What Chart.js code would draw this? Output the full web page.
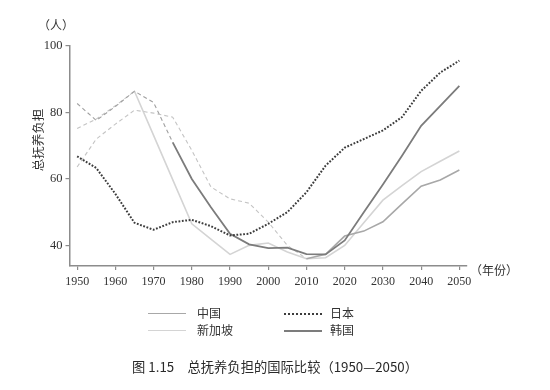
<!DOCTYPE html>
<html><head><meta charset="utf-8">
<script src="https://cdn.jsdelivr.net/npm/chart.js@4"></script>
<style>
body{margin:0;background:#fff;}
#wrap{position:relative;width:550px;height:390px;overflow:hidden;}
#c{position:absolute;left:0;top:0;}
.t{position:absolute;font-family:"Noto Sans CJK SC";color:#333;white-space:nowrap;font-size:12px;line-height:14px;}
.ln{position:absolute;width:38px;height:0;}
</style></head><body>
<div id="wrap">
<canvas id="c" width="550" height="390"></canvas>
<div class="t" style="left:38px;top:18px;">（人）</div>
<div class="t" style="left:470px;top:263px;">（年份）</div>
<div class="t" style="left:5px;top:133px;width:66px;text-align:center;font-size:12.5px;transform:rotate(-90deg);">总抚养负担</div>
<div class="ln" style="left:148px;top:313px;border-top:1.5px solid #a8a8a8;"></div>
<div class="t" style="left:197px;top:306px;">中国</div>
<div class="ln" style="left:284px;top:313px;border-top:2px dotted #3c3c3c;"></div>
<div class="t" style="left:330px;top:306px;">日本</div>
<div class="ln" style="left:148px;top:330px;border-top:1.5px solid #d4d4d4;"></div>
<div class="t" style="left:197px;top:323px;">新加坡</div>
<div class="ln" style="left:284px;top:330px;border-top:2px solid #7c7c7c;"></div>
<div class="t" style="left:330px;top:323px;">韩国</div>
<div class="t" style="left:0;width:550px;text-align:center;top:359px;font-size:13.3px;line-height:16px;color:#2a2a2a;">图 1.15　总抚养负担的国际比较（1950—2050）</div>
</div>
<script>
const years = [1950,1955,1960,1965,1970,1975,1980,1985,1990,1995,2000,2005,2010,2015,2020,2025,2030,2035,2040,2045,2050];
const china     = [63.6,72,76.5,80.7,79.8,78.6,68.6,57.6,54,52.7,47,40,36,37.3,42.8,44.3,47.1,52.5,57.8,59.7,62.7];
const japan     = [66.8,63.3,55.5,46.8,44.7,47,47.7,45.8,43,43.5,46.5,50,56,64,69.4,72,74.6,78.6,86.5,92,95.6];
const singapore = [75.2,78,82,86.4,73.1,59.8,46.5,41.9,37.3,40,40.7,38,36,36.3,40,46.8,53.6,58,62.2,65.3,68.4];
const korea     = [82.7,77.6,81.8,86.4,83,71,60,51.5,43.5,40.3,39.2,39.3,37.4,37.3,41.5,50,58.3,67,76,82,88];
const xTicks = [1950,1960,1970,1980,1990,2000,2010,2020,2030,2040,2050];
const yTicks = [40,60,80,100];
const names = ['中国','日本','新加坡','韩国'];

function pts(arr){ return arr.map((v,i)=>({x:years[i], y:v})); }
function seg(solidFrom, solidColor, dashColor, solidW){
  return {
    borderDash: ctx => ctx.p0DataIndex < solidFrom ? [4,3] : undefined,
    borderColor: ctx => ctx.p0DataIndex < solidFrom ? dashColor : solidColor,
    borderWidth: ctx => ctx.p0DataIndex < solidFrom ? 1.1 : solidW
  };
}
const axisColor = '#8c8c8c';
const tickFont = '"Liberation Serif", "DejaVu Serif", serif';
new Chart(document.getElementById('c'), {
  type:'line',
  data:{ datasets:[
    {label:names[1], data:pts(japan), borderColor:'#3c3c3c', borderWidth:2, borderDash:[1.8,1.6], pointRadius:0, tension:0},
    {label:names[3], data:pts(korea), borderColor:'#7c7c7c', borderWidth:1.8, pointRadius:0, tension:0, segment:seg(5,'#7c7c7c','#a0a0a0',1.8)},
    {label:names[0], data:pts(china), borderColor:'#a8a8a8', borderWidth:1.6, pointRadius:0, tension:0, segment:seg(12,'#a8a8a8','#c4c4c4',1.6)},
    {label:names[2], data:pts(singapore), borderColor:'#d4d4d4', borderWidth:1.6, pointRadius:0, tension:0, segment:seg(3,'#d4d4d4','#c4c4c4',1.6)}
  ]},
  options:{
    responsive:false, animation:false, devicePixelRatio:1,
    layout:{padding:{left:0,top:46,right:83,bottom:0}},
    plugins:{legend:{display:false}, tooltip:{enabled:false}},
    scales:{
      x:{type:'linear', min:1948, max:2052,
        afterBuildTicks: ax => { ax.ticks = xTicks.map(v=>({value:v})); },
        afterFit: s => { s.height = 124; },
        grid:{drawOnChartArea:false, drawTicks:true, tickLength:4, color:axisColor, lineWidth:1.2},
        border:{display:true, color:axisColor, width:1.5},
        ticks:{padding:5, color:'#333', font:{family:tickFont, size:12}, maxRotation:0, callback:v=>String(v)}
      },
      y:{type:'linear', min:33.8, max:100,
        afterBuildTicks: ax => { ax.ticks = yTicks.map(v=>({value:v})); },
        afterFit: s => { s.width = 69.5; },
        grid:{drawOnChartArea:false, drawTicks:true, tickLength:4, color:axisColor, lineWidth:1.2},
        border:{display:true, color:axisColor, width:1.5},
        ticks:{padding:3, color:'#333', font:{family:tickFont, size:12.5}, callback:v=>String(v)}
      }
    }
  }
});
</script>
</body></html>
